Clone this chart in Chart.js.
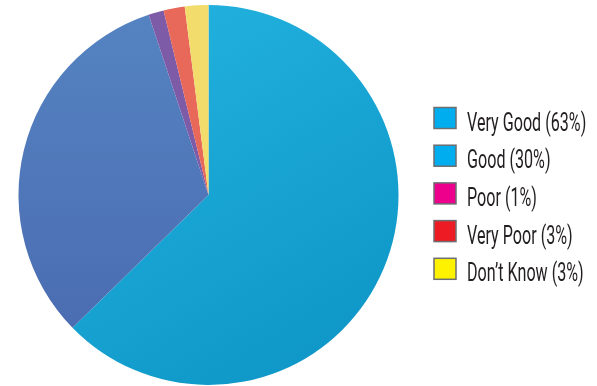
<!DOCTYPE html>
<html>
<head>
<meta charset="utf-8">
<script src="https://cdn.jsdelivr.net/npm/chart.js@4.4.1/dist/chart.umd.min.js"></script>
<style>
  html, body { margin: 0; padding: 0; background: #ffffff; }
  #wrap { position: relative; width: 597px; height: 386px; }
</style>
</head>
<body>
<div id="wrap"><canvas id="pieChart" width="597" height="386"></canvas></div>
<script>
const categories = ['Very Good', 'Good', 'Poor', 'Very Poor', "Don\u2019t Know"];
// percentages printed in the legend
const labelPercents = [63, 30, 1, 3, 3];
// slice sizes as drawn in the picture (they don't follow the printed numbers exactly)
const sliceValues = [62.7, 32.2, 1.3, 1.8, 2.0];
const legendColors = ['#00aeef', '#00aeef', '#ec008c', '#ed1c24', '#fff200'];

const legendLabels = categories.map(function(c, i) {
    return c + ' (' + labelPercents[i] + '%)';
});

// slices get a soft light-to-dark shading like the faceted original
function sliceFill(context) {
    const area = context.chart.chartArea;
    if (!area) return '#15a5d6';
    const c = context.chart.ctx;
    const i = context.dataIndex;
    if (i === 0) {
        const g = c.createLinearGradient(area.left + 150, area.top, area.right, area.bottom);
        g.addColorStop(0, '#22b1de');
        g.addColorStop(1, '#0b93c4');
        return g;
    }
    if (i === 1) {
        const g = c.createLinearGradient(0, area.top, 0, area.bottom - 60);
        g.addColorStop(0, '#5584c2');
        g.addColorStop(1, '#4b6db2');
        return g;
    }
    return ['#7d5ba6', '#e8685a', '#f1dc6c'][i - 2];
}

// condensed legend drawn on the right, the built-in one can't squeeze the font
const sideLegend = {
    id: 'sideLegend',
    afterDraw: function(chart) {
        const c = chart.ctx;
        const x0 = 434, top0 = 107.5, step = 37.7;
        const boxW = 22, boxH = 21;
        c.save();
        chart.data.labels.forEach(function(t, i) {
            const y = top0 + i * step;
            c.fillStyle = legendColors[i];
            c.fillRect(x0, y, boxW, boxH);
            c.strokeStyle = '#6d6e71';
            c.lineWidth = 1.5;
            c.strokeRect(x0, y, boxW, boxH);

            c.save();
            c.translate(467, y + 23);
            c.scale(0.645, 1);
            c.font = '25px Roboto';
            c.fillStyle = '#231f20';
            c.textBaseline = 'alphabetic';
            c.fillText(t, 0, 0);
            c.restore();
        });
        c.restore();
    }
};

const ctx = document.getElementById('pieChart').getContext('2d');

new Chart(ctx, {
    type: 'pie',
    data: {
        labels: legendLabels,
        datasets: [{
            data: sliceValues,
            backgroundColor: sliceFill,
            borderWidth: 0
        }]
    },
    options: {
        responsive: false,
        animation: false,
        layout: {
            padding: { top: 5, bottom: 1, left: 18, right: 198 }
        },
        plugins: {
            tooltip: { enabled: false },
            legend: { display: false }
        }
    },
    plugins: [sideLegend]
});
</script>
</body>
</html>
